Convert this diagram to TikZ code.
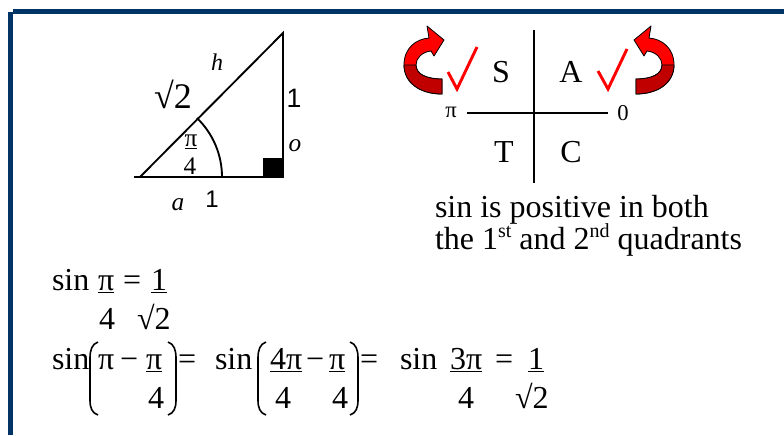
\documentclass[tikz,border=0pt]{standalone}
\usepackage{fontspec}
\setmainfont{Liberation Serif}
\newfontfamily\sansone{Liberation Sans}
\definecolor{framebl}{HTML}{003366}
\definecolor{arrred}{HTML}{FF0000}
\definecolor{arrdark}{HTML}{C00000}
\newcommand{\fs}[1]{\fontsize{#1}{#1}\selectfont}
\newcommand{\supx}[1]{\raisebox{8.5pt}{\fontsize{15}{15}\selectfont #1}}
\newcommand{\curlarrow}{%
 \filldraw[fill=arrred, draw=black, line width=0.6pt, line join=round]
   (442,94) .. controls (419,94) and (404,82) .. (404,65)
   .. controls (404,48) and (416,39) .. (429,38)
   -- (427,26) -- (444,40) -- (434,56) -- (431,51)
   .. controls (422,52) and (416,58) .. (416,65)
   .. controls (416,74) and (426,79) .. (442,79) -- cycle;
 \filldraw[fill=arrdark, draw=black, line width=0.6pt, line join=round]
   (404,65) .. controls (404,82) and (419,94) .. (442,94) -- (442,79)
   .. controls (426,79) and (416,74) .. (416,65) -- cycle;
}
\newcommand{\lpar}[1]{\draw[parl] (#1,342) .. controls ({#1-6},344) and ({#1-8},350) .. ({#1-8},358) -- ({#1-8},400) .. controls ({#1-8},408) and ({#1-6},413) .. (#1,415);}
\newcommand{\rpar}[1]{\draw[parl] (#1,342) .. controls ({#1+6},344) and ({#1+8},350) .. ({#1+8},358) -- ({#1+8},400) .. controls ({#1+8},408) and ({#1+6},413) .. (#1,415);}
\begin{document}
\begin{tikzpicture}[x=0.75pt,y=-0.75pt,
  lbl/.style={inner sep=0pt, outer sep=0pt, anchor=base},
  eq/.style={inner sep=0pt, outer sep=0pt, anchor=base west, font=\fs{24}},
  geo/.style={line width=1.4pt},
  parl/.style={line width=1.2pt},
  tick/.style={draw=red, line width=2.2pt, line join=miter}]
\useasboundingbox (0,0) rectangle (784,435);
\fill[white] (0,0) rectangle (784,435);
% frame
\fill[framebl] (8,12) rectangle (13,435);
\fill[framebl] (12.5,9) rectangle (784,14);
% triangle
\coordinate (P) at (140,177);
\coordinate (P0) at (134,177);
\coordinate (Q) at (283,177);
\coordinate (R) at (283,33);
\draw[geo] (P0) -- (Q) -- (R) -- (P);
\fill (263,158) rectangle (Q);
\draw[geo] (222,177) arc[start angle=0, end angle=-46, radius=82];
\node[lbl, font=\itshape\fs{18}] (h) at (217,70) {h};
\node[lbl, font=\fs{27}] (r2) at (173,108) {√2};
\node[lbl, font=\sansone\fs{20}] (oneA) at (294,107) {1};
\node[lbl, font=\itshape\fs{19}] (o) at (295,151) {o};
\node[lbl, font=\fs{19}] (pq) at (191,146) {\underline{π}};
\node[lbl, font=\fs{19}] (fq) at (190,174) {4};
\node[lbl, font=\itshape\fs{19}] (a) at (178,210) {a};
\node[lbl, font=\sansone\fs{18}] (oneB) at (212,207) {1};
% quadrants
\draw[geo] (534,30) -- (534,183);
\draw[geo] (467,113) -- (608,113);
\node[lbl, font=\fs{24}] (S) at (501,83) {S};
\node[lbl, font=\fs{24}] (A) at (571,83) {A};
\node[lbl, font=\fs{24}] (T) at (504,162) {T};
\node[lbl, font=\fs{24}] (C) at (571,162) {C};
\node[lbl, font=\fs{17}] (pis) at (451,117) {π};
\node[lbl, font=\fs{17}] (zero) at (623,120) {0};
\draw[tick] (448,72) -- (457,89) -- (477,47);
\draw[tick] (598,71) -- (608,89) -- (627,49);
\curlarrow
\begin{scope}[shift={(1078,0)}, xscale=-1]
\curlarrow
\end{scope}
% text
\node[eq] (t1) at (435,217) {sin is positive in both};
\node[eq] (t2) at (435,249) {the 1\supx{st} and 2\supx{nd} quadrants};
% equations
\node[eq] (s1) at (52,290) {sin};
\node[eq] (p1) at (98,290) {\underline{π}};
\node[eq] (e1) at (123,290) {=};
\node[eq] (o1) at (151,290) {\underline{1}};
\node[eq] (f1) at (99,329) {4};
\node[eq] (q1) at (137,329) {√2};
\node[eq] (s2) at (52,369) {sin};
\node[eq] (p2) at (98,369) {π};
\node[eq] (m2) at (120,369) {−};
\node[eq] (p3) at (146,369) {\underline{π}};
\node[eq] (e2) at (178,369) {=};
\node[eq] (s3) at (215,369) {sin};
\node[eq] (p4) at (270,369) {\underline{4π}};
\node[eq] (m3) at (306,369) {−};
\node[eq] (p5) at (329,369) {\underline{π}};
\node[eq] (e3) at (360,369) {=};
\node[eq] (s4) at (400,369) {sin};
\node[eq] (p6) at (450,369) {\underline{3π}};
\node[eq] (e4) at (495,369) {=};
\node[eq] (o2) at (528,369) {\underline{1}};
\node[eq] (f2) at (148,408) {4};
\node[eq] (f3) at (275,408) {4};
\node[eq] (f4) at (332,408) {4};
\node[eq] (f5) at (458,408) {4};
\node[eq] (q2) at (515,408) {√2};
\lpar{98}
\rpar{168}
\lpar{266}
\rpar{350}
\end{tikzpicture}
\end{document}
